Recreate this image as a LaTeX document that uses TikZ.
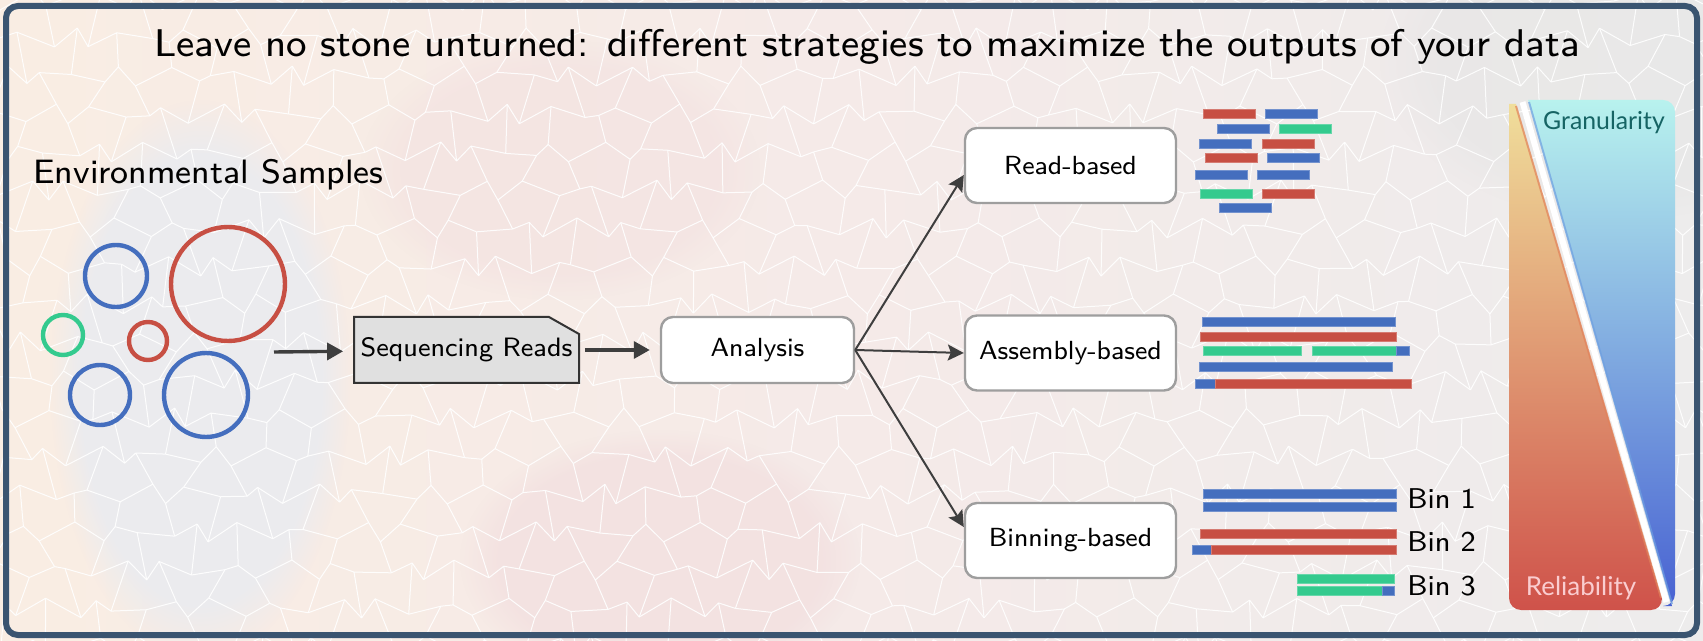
\documentclass[tikz,border=0pt]{standalone}
\usepackage{fontspec}
\setmainfont{lmsans8-regular.otf}
\newfontfamily\latofont{Lato}
\usetikzlibrary{arrows.meta,fadings}

\definecolor{readblue}{RGB}{68,110,190}
\definecolor{readred}{RGB}{199,79,67}
\definecolor{readgreen}{RGB}{52,202,142}
\definecolor{framecol}{RGB}{58,84,112}
\definecolor{arrowcol}{RGB}{62,62,62}
\definecolor{boxline}{RGB}{158,158,158}
\definecolor{seqfill}{RGB}{224,224,224}
\definecolor{bgpeach}{RGB}{249,237,227}
\definecolor{bgpink}{RGB}{245,234,232}
\definecolor{bggray}{RGB}{237,236,236}
\definecolor{bgblue}{RGB}{230,235,243}
\definecolor{bgrose}{RGB}{243,224,224}
\definecolor{relyellow}{RGB}{240,222,155}
\definecolor{relpeach}{RGB}{228,168,138}
\definecolor{relred}{RGB}{207,82,74}
\definecolor{reledge}{RGB}{226,130,90}
\definecolor{grancyan}{RGB}{184,242,238}
\definecolor{granblue}{RGB}{145,195,230}
\definecolor{grandeep}{RGB}{72,98,210}
\definecolor{granedge}{RGB}{110,160,225}
\definecolor{granlabel}{RGB}{22,100,100}
\definecolor{rellabel}{RGB}{250,205,208}

\pgfmathdeclarefunction{cellx}{2}{\pgfmathparse{#1*24+9*sin(#1*97.3+#2*211.9)}}
\pgfmathdeclarefunction{celly}{2}{\pgfmathparse{#2*38+10*cos(#1*151.7+#2*83.1)}}

\begin{document}
\begin{tikzpicture}[x=0.5pt,y=-0.5pt]
\tikzstyle{methodbox}=[draw=boxline, line width=1.2pt, fill=white, rounded corners=6pt, minimum width=105.5pt, minimum height=37.5pt, font=\fontsize{13.1}{16}\selectfont]
\tikzstyle{seqbox}=[minimum width=113pt, minimum height=33pt, inner sep=2pt, font=\fontsize{13.3}{16}\selectfont]
\tikzstyle{seqshape}=[draw=black!80, line width=1pt, fill=seqfill]
\tikzstyle{thickarrow}=[arrowcol, line width=1.7pt, -{Triangle[length=8pt,width=8.5pt]}]
\tikzstyle{thinarrow}=[arrowcol, line width=1pt, -{Stealth[length=8pt,width=8pt,inset=1.5pt]}]
\tikzstyle{binlabel}=[anchor=base west, inner sep=0pt, font=\fontsize{14.3}{16}\selectfont]
\tikzstyle{cellline}=[white, line width=0.5pt, opacity=0.9]
\useasboundingbox (0,0) rectangle (1703,641);

% background
\shade[left color=bgpeach, right color=bggray, middle color=bgpink] (0,0) rectangle (1703,641);
\fill[bgblue, path fading=circle with fuzzy edge 20 percent, opacity=0.7] (200,380) ellipse (150 and 280);
\fill[bgrose, path fading=circle with fuzzy edge 20 percent, opacity=0.8] (660,560) ellipse (200 and 130);
\fill[bgrose, path fading=circle with fuzzy edge 20 percent, opacity=0.5] (560,170) ellipse (200 and 130);
\fill[black!10, path fading=circle with fuzzy edge 20 percent, opacity=0.5] (1620,60) ellipse (240 and 160);
\foreach \i in {0,...,71}{
  \foreach \j in {0,...,17}{
    \draw[cellline] ({cellx(\i,\j)},{celly(\i,\j)}) -- ({cellx(\i+1,\j)},{celly(\i+1,\j)});
    \pgfmathparse{int(mod(\i+\j,2))}
    \ifnum\pgfmathresult=0
      \draw[cellline] ({cellx(\i,\j)},{celly(\i,\j)}) -- ({cellx(\i,\j+1)},{celly(\i,\j+1)});
    \fi
  }
}
\draw[framecol, line width=3pt, rounded corners=6pt] (6,6) rectangle (1697,635);

% title
\node[anchor=base, font=\fontsize{19.3}{24}\selectfont] (title) at (867,57) {Leave no stone unturned: different strategies to maximize the outputs of your data};

% samples
\node[anchor=base west, inner sep=0pt, font=\fontsize{16.9}{20}\selectfont] (samples) at (33,184) {Environmental Samples};
\foreach \x/\y/\r/\c in {116/276/31/readblue, 228/284/57/readred, 63/335/20/readgreen, 148/341/19/readred, 100/395/30/readblue, 206/395/42/readblue}
  \draw[\c, line width=2.2pt] (\x,\y) circle[radius=\r];
\coordinate (pool) at (274,352);

% pipeline
\path[seqshape] (354,317) -- (549,317) -- (579,334) -- (579,383) -- (354,383) -- cycle;
\node[seqbox] (seq) at (466.5,350) {Sequencing Reads};
\node[methodbox, minimum width=96.5pt, minimum height=33pt] (analysis) at (757.5,350) {Analysis};
\node[methodbox] (read) at (1070.5,165.5) {Read-based};
\node[methodbox] (assembly) at (1070.5,353) {Assembly-based};
\node[methodbox] (binning) at (1070.5,540.5) {Binning-based};

\draw[thickarrow, shorten >=5pt] (pool) -- (seq);
\draw[thickarrow, shorten <=2.5pt, shorten >=5pt] (seq) -- (analysis);
\draw[thinarrow] (analysis.east) -- ([yshift=-4.75pt]read.west);
\draw[thinarrow] (analysis.east) -- (assembly.west);
\draw[thinarrow] (analysis.east) -- ([yshift=6.75pt]binning.west);

% reads
\foreach \x/\y/\c in {1203/109/readred, 1265/109/readblue, 1217/124/readblue, 1279/124/readgreen, 1199/139/readblue, 1262/139/readred, 1205/153/readred, 1267/153/readblue, 1195/170/readblue, 1257/170/readblue, 1200/189/readgreen, 1262/189/readred, 1219/203/readblue}
  \fill[\c, draw=\c!75!white, line width=0.4pt] (\x,\y) rectangle ++(52.5,9.5);

% contigs
\foreach \a/\b/\y/\c in {1202/1395/317/readblue, 1200/1396/332/readred, 1203/1301/346/readgreen, 1312/1396/346/readgreen, 1396/1409/346/readblue, 1199/1392/362/readblue, 1195/1215/379/readblue, 1215/1411/379/readred}
  \fill[\c, draw=\c!75!white, line width=0.4pt] (\a,\y) rectangle (\b,\y+9.5);

% bins
\foreach \a/\b/\y/\c in {1203/1396/489/readblue, 1203/1396/502/readblue, 1200/1396/529/readred, 1192/1211/545/readblue, 1211/1396/545/readred, 1297/1394/574/readgreen, 1297/1382/586/readgreen, 1382/1394/586/readblue}
  \fill[\c, draw=\c!75!white, line width=0.4pt] (\a,\y) rectangle (\b,\y+9.5);
\node[binlabel] (bin1) at (1407,509) {Bin 1};
\node[binlabel] (bin2) at (1407,552) {Bin 2};
\node[binlabel] (bin3) at (1407,595) {Bin 3};

% granularity vs reliability
\shade[top color=relyellow, middle color=relpeach, bottom color=relred] (1509,104) -- (1516,104) -- (1662,600) [rounded corners=6pt] -- (1663,610) -- (1509,610) [sharp corners] -- cycle;
\draw[reledge, line width=1pt, opacity=0.7] (1516,106) -- (1661,598);
\shade[top color=grancyan, middle color=granblue, bottom color=grandeep, rounded corners=6pt] (1528,100) -- (1675,100) -- (1675,606) [sharp corners] -- (1672,606) -- cycle;
\draw[granedge, line width=1pt, opacity=0.7] (1529,102) -- (1672,604);
\draw[white, line width=3pt] (1522.5,102) -- (1666.5,602);
\node[anchor=base, font=\latofont\fontsize{12.4}{14}\selectfont, text=granlabel] (gran) at (1604,129.5) {Granularity};
\node[anchor=base, font=\latofont\fontsize{13}{15}\selectfont, text=rellabel] (rel) at (1581,596) {Reliability};
\end{tikzpicture}
\end{document}
